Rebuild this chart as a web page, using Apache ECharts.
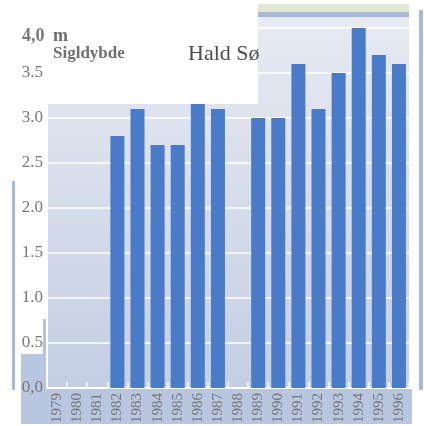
<!DOCTYPE html>
<html>
<head>
<meta charset="utf-8">
<script src="https://cdn.jsdelivr.net/npm/echarts@6/dist/echarts.min.js"></script>
<style>
  html, body { margin: 0; padding: 0; background: #ffffff; }
  #chart { width: 424px; height: 426px; }
</style>
</head>
<body>
<div id="chart"></div>
<script>
// Sigtdybde (Secchi depth) for Hald Sø, 1979-1996, in metres
const years = ['1979', '1980', '1981', '1982', '1983', '1984', '1985', '1986', '1987',
               '1988', '1989', '1990', '1991', '1992', '1993', '1994', '1995', '1996'];
const secchiDepth = [null, null, null, 2.8, 3.1, 2.7, 2.7, 3.2, 3.1,
                     null, 3.0, 3.0, 3.6, 3.1, 3.5, 4.0, 3.7, 3.6];
const yTickValues = [0, 0.5, 1, 1.5, 2, 2.5, 3, 3.5, 4];
const yTickLabels = ['0,0', '0.5', '1.0', '1.5', '2.0', '2.5', '3.0', '3.5', '4,0'];

const serif = '"Liberation Serif", "Times New Roman", serif';
const textGrey = '#787878';
const panelBlue = '#b9c6df';
const stripBlue = '#a9b9d8';

const chart = echarts.init(document.getElementById('chart'), null, { renderer: 'canvas' });

chart.setOption({
  backgroundColor: '#ffffff',
  animation: false,
  grid: {
    left: 47, right: 15, top: 28, bottom: 38,
    show: true,
    borderWidth: 0,
    backgroundColor: {
      type: 'linear', x: 0, y: 0, x2: 0, y2: 1,
      colorStops: [
        { offset: 0, color: '#e6e9f1' },
        { offset: 1, color: '#c4cee3' }
      ]
    }
  },
  xAxis: {
    type: 'category',
    data: years,
    axisLine: { show: true, lineStyle: { color: '#ffffff', width: 2 } },
    axisTick: { show: true, inside: true, length: 6, lineStyle: { color: '#ffffff', width: 1.5 } },
    axisLabel: {
      rotate: 90,
      margin: 5,
      color: textGrey,
      fontFamily: serif,
      fontSize: 15
    },
    z: 1
  },
  yAxis: {
    type: 'value',
    min: 0,
    max: 4,
    interval: 0.5,
    axisLine: { show: true, lineStyle: { color: '#ffffff', width: 2 } },
    axisTick: { show: false },
    splitLine: { show: true, lineStyle: { color: '#ffffff', width: 1.6 } },
    axisLabel: {
      margin: 4,
      color: textGrey,
      fontFamily: serif,
      fontSize: 17,
      formatter: function (v) {
        const i = yTickValues.findIndex(t => Math.abs(t - v) < 1e-6);
        if (i < 0 || i === yTickValues.length - 1) return '';
        return yTickLabels[i];
      }
    }
  },
  series: [{
    type: 'bar',
    data: secchiDepth,
    barWidth: 14,
    itemStyle: { color: '#4a7bc8' },
    z: 2
  }],
  graphic: [
    // light panel behind the year labels and lower-left corner
    { type: 'rect', z: -5, shape: { x: 21, y: 389, width: 391, height: 35 }, style: { fill: panelBlue } },
    { type: 'rect', z: -5, shape: { x: 21, y: 354, width: 26, height: 70 }, style: { fill: panelBlue } },
    { type: 'rect', z: -5, shape: { x: 43, y: 319, width: 4, height: 36 }, style: { fill: '#b3c1dc' } },
    // side strips
    { type: 'rect', z: -5, shape: { x: 12, y: 181, width: 3, height: 209 }, style: { fill: stripBlue } },
    { type: 'rect', z: -5, shape: { x: 419, y: 10, width: 4, height: 380 }, style: { fill: stripBlue } },
    // top bands above the plot
    { type: 'rect', z: -5, shape: { x: 258, y: 4, width: 151, height: 8 }, style: { fill: '#dfe9d6' } },
    { type: 'rect', z: -5, shape: { x: 258, y: 12, width: 151, height: 5 }, style: { fill: '#a8b8d7' } },
    { type: 'rect', z: -5, shape: { x: 258, y: 17, width: 151, height: 11 }, style: { fill: '#e8ebf2' } },
    // title box in the upper left of the plot
    { type: 'rect', z: 50, shape: { x: 47, y: 0, width: 211, height: 104 }, style: { fill: '#ffffff' } },
    {
      type: 'text', z: 60, left: 22, top: 27,
      style: { text: yTickLabels[yTickLabels.length - 1], fill: textGrey, font: 'bold 18px ' + serif }
    },
    {
      type: 'text', z: 60, left: 53, top: 27,
      style: { text: 'm', fill: '#6f6f6f', font: 'bold 18px ' + serif }
    },
    {
      type: 'text', z: 60, left: 53, top: 45,
      style: { text: 'Sigldybde', fill: '#6f6f6f', font: 'bold 17px ' + serif }
    },
    {
      type: 'text', z: 60, left: 188, top: 43,
      style: { text: 'Hald Sø', fill: '#4d4d4d', font: '22px ' + serif }
    }
  ]
});
</script>
</body>
</html>
